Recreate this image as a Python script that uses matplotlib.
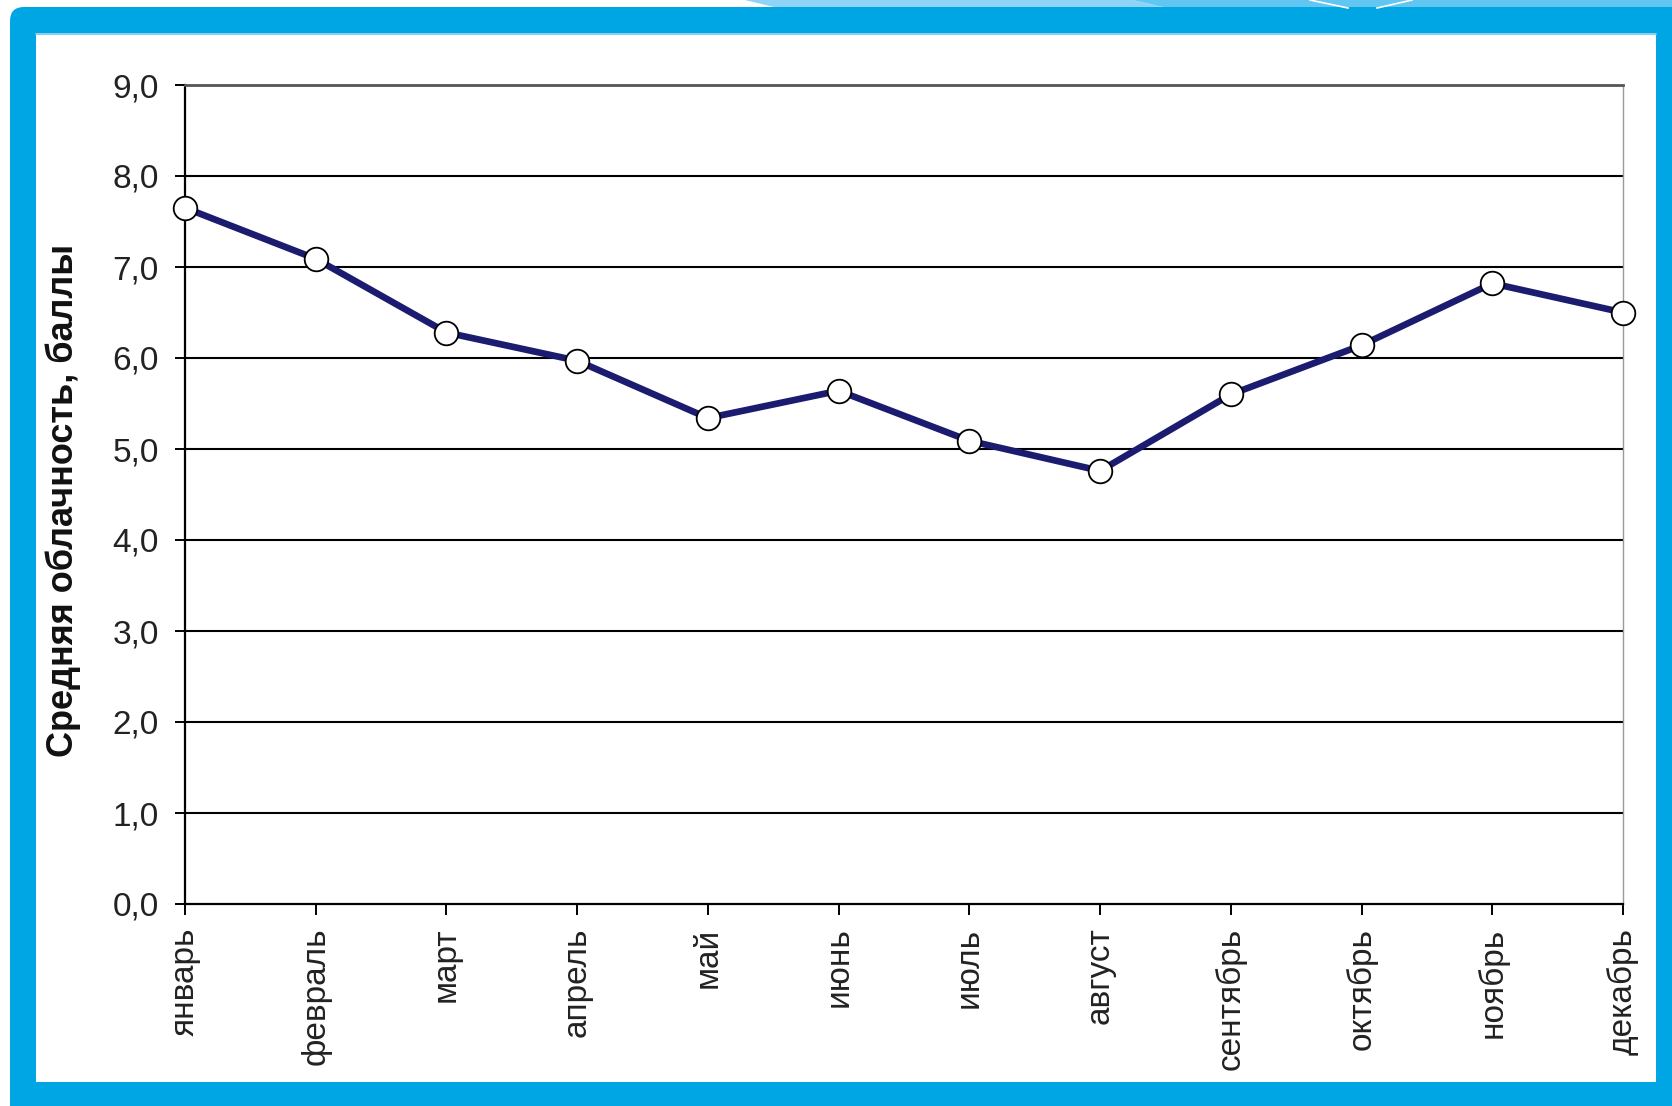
import matplotlib
matplotlib.use("Agg")
import matplotlib.pyplot as plt
from matplotlib.patches import Polygon, Rectangle, FancyBboxPatch

months = ["январь", "февраль", "март", "апрель", "май", "июнь",
          "июль", "август", "сентябрь", "октябрь", "ноябрь", "декабрь"]
cloudiness = [7.65, 7.09, 6.28, 5.97, 5.34, 5.64, 5.09, 4.76, 5.60, 6.14, 6.82, 6.50]
yticks = [0, 1, 2, 3, 4, 5, 6, 7, 8, 9]
ytick_labels = ["0,0", "1,0", "2,0", "3,0", "4,0", "5,0", "6,0", "7,0", "8,0", "9,0"]
ylabel = "Средняя облачность, баллы"

W, H = 1672, 1106
plt.rcParams['font.family'] = ['Liberation Sans', 'DejaVu Sans']

fig = plt.figure(figsize=(W / 100, H / 100), dpi=100)
fig.patch.set_facecolor('white')

# background frame axes in pixel coordinates
bg = fig.add_axes([0, 0, 1, 1], zorder=0)
bg.set_xlim(0, W)
bg.set_ylim(H, 0)
bg.axis('off')
blue = '#00a5e3'
# decorative strip above frame
bg.add_patch(Polygon([(745, 0), (1133, 0), (1167, 8), (778, 8)], closed=True, color='#8fd4f6', lw=0))
bg.add_patch(Polygon([(1133, 0), (W, 0), (W, 8), (1167, 8)], closed=True, color='#62c6f2', lw=0))
bg.plot([1310, 1348], [0, 8], color='white', lw=1.2)
bg.plot([1412, 1377], [0, 8], color='white', lw=1.2)
# frame
bg.add_patch(FancyBboxPatch((10, 7), W - 10 + 30, H - 7 + 30,
                            boxstyle="round,pad=0,rounding_size=14", color=blue, lw=0))
bg.add_patch(Rectangle((36, 33), 1656 - 36, 1082 - 33, color='white', lw=0))
bg.plot([36, 1656], [33.5, 33.5], color='#6ccaf0', lw=1.2)

ax = fig.add_axes([185 / W, 1 - 904 / H, (1623 - 185) / W, (904 - 85) / H], zorder=1)
ax.set_facecolor('none')
x = list(range(len(months)))
ax.set_xlim(0, len(months) - 1)
ax.set_ylim(0, 9)

for yv in yticks[1:-1]:
    ax.axhline(yv, color='black', lw=1.5, zorder=1)

ax.plot(x, cloudiness, color='#1b1b6f', lw=4.8, zorder=3, clip_on=False,
        marker='o', markersize=17, markerfacecolor='white',
        markeredgecolor='black', markeredgewidth=1.3)

ax.set_yticks(yticks)
ax.set_yticklabels(ytick_labels)
ax.set_xticks(x)
ax.set_xticklabels(months, rotation=90)
ax.tick_params(axis='y', direction='out', length=7, width=1.4, pad=12,
               labelsize=24, labelcolor='#222222')
ax.tick_params(axis='x', direction='out', length=8, width=1.4, pad=9,
               labelsize=24, labelcolor='#222222')

for s in ['left', 'bottom']:
    ax.spines[s].set_color('black')
    ax.spines[s].set_linewidth(1.6)
ax.spines['top'].set_color('#555555')
ax.spines['top'].set_linewidth(2)
ax.spines['right'].set_color('#999999')
ax.spines['right'].set_linewidth(1)

fig.text(63 / W, 1 - 500 / H, ylabel, rotation=90, ha='center', va='center',
         fontsize=26, fontweight='bold', color='#111111')

fig.savefig('out.png', dpi=100)
